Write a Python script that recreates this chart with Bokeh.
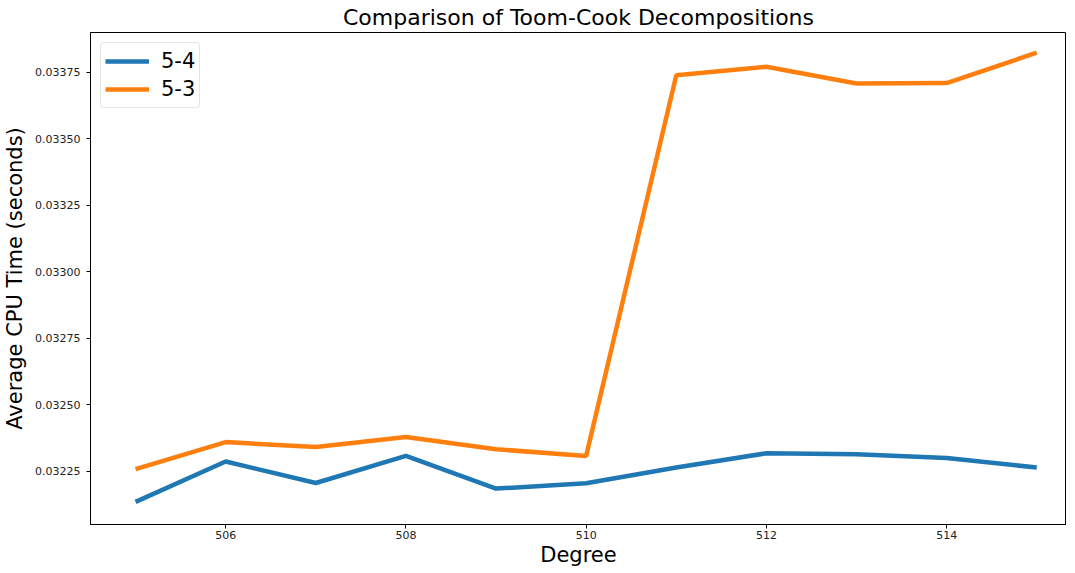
from bokeh.plotting import figure
from bokeh.models import SingleIntervalTicker, NumeralTickFormatter, Range1d, Legend, LegendItem
from bokeh.embed import file_html
from bokeh.resources import INLINE

degrees = [505, 506, 507, 508, 509, 510, 511, 512, 513, 514, 515]
t_54 = [0.032135, 0.032287, 0.032206, 0.032308, 0.032185, 0.032205,
        0.032264, 0.032318, 0.032314, 0.032300, 0.032264]
t_53 = [0.032258, 0.032360, 0.032341, 0.032379, 0.032333, 0.032308,
        0.033739, 0.033771, 0.033708, 0.033710, 0.033824]
series_names = ["5-4", "5-3"]
colors = ["#1f77b4", "#ff7f0e"]
FONT = "DejaVu Sans"

p = figure(frame_width=976, frame_height=492, output_backend="svg", toolbar_location=None,
           x_range=Range1d(504.5, 515.33), y_range=Range1d(0.03205, 0.0339),
           min_border_left=83, min_border_top=29, min_border_bottom=8, min_border_right=0)
p.title.text = "Comparison of Toom-Cook Decompositions"
p.title.align = "center"
p.title.text_font = FONT
p.title.text_font_size = "22px"
p.title.text_font_style = "normal"
p.title.text_color = "black"
p.title.standoff = 5

r1 = p.line(degrees, t_54, line_color=colors[0], line_width=4.5)
r2 = p.line(degrees, t_53, line_color=colors[1], line_width=4.5)

legend = Legend(items=[LegendItem(label=series_names[0], renderers=[r1]),
                       LegendItem(label=series_names[1], renderers=[r2])],
                location="top_left", label_text_font=FONT, label_text_font_size="21px",
                label_text_color="black",
                glyph_width=44, glyph_height=28, label_height=28, spacing=0,
                label_standoff=12, padding=4, margin=10, border_line_color="#cccccc",
                border_radius=4, background_fill_alpha=0.8)
p.add_layout(legend)

p.xgrid.visible = False
p.ygrid.visible = False
p.outline_line_color = "black"
p.outline_line_width = 1

p.xaxis.ticker = SingleIntervalTicker(interval=2)
p.yaxis.ticker = SingleIntervalTicker(interval=0.00025)
p.yaxis.formatter = NumeralTickFormatter(format="0.00000")
for ax in (p.xaxis, p.yaxis):
    ax.axis_line_color = "black"
    ax.major_tick_line_color = "black"
    ax.major_tick_out = 4
    ax.major_tick_in = 0
    ax.minor_tick_line_color = None
    ax.major_label_text_font = FONT
    ax.major_label_text_font_size = "11px"
    ax.major_label_text_color = "#222222"
    ax.axis_label_text_font = FONT
    ax.axis_label_text_font_size = "21px"
    ax.axis_label_text_font_style = "normal"
    ax.axis_label_text_color = "black"
p.xaxis.axis_label = "Degree"
p.yaxis.axis_label = "Average CPU Time (seconds)"
p.xaxis.major_label_standoff = 2
p.xaxis.axis_label_standoff = 1
p.yaxis.major_label_standoff = 6
p.yaxis.axis_label_standoff = 5

open("out.html", "w").write(file_html(p, INLINE))
